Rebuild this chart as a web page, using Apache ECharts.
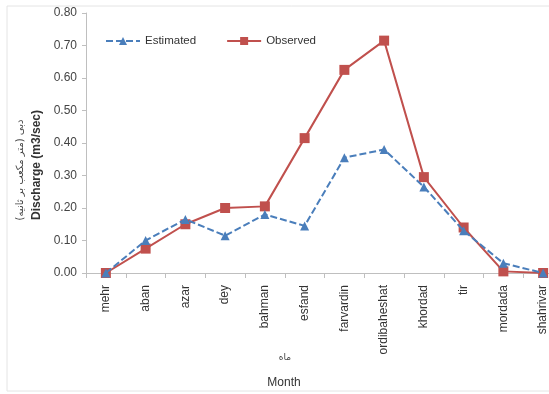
<!DOCTYPE html>
<html><head><meta charset="utf-8">
<script src="https://cdn.jsdelivr.net/npm/echarts@6/dist/echarts.min.js"></script>
<style>html,body{margin:0;padding:0;background:#fff;overflow:hidden}#c{width:575px;height:394px}</style>
</head><body><div id="c"></div>
<script>
const months = ['mehr','aban','azar','dey','bahman','esfand','farvardin','ordibaheshat','khordad','tir','mordada','shahrivar'];
const estimated = [0, 0.10, 0.165, 0.115, 0.18, 0.145, 0.355, 0.38, 0.265, 0.13, 0.03, 0];
const observed = [0, 0.075, 0.15, 0.2, 0.205, 0.415, 0.625, 0.715, 0.295, 0.14, 0.005, 0];
const yTicks = [0, 0.8, 0.1];

const chart = echarts.init(document.getElementById('c'), null, {renderer:'canvas'});
const font = 'Liberation Sans, Arial, sans-serif';
chart.setOption({
  animation: false,
  textStyle: {fontFamily: font},
  grid: {left: 86, top: 13, height: 260, width: 477, containLabel: false},
  legend: {
    left: 100, top: 30, itemWidth: 34, itemHeight: 10, itemGap: 30,
    textStyle: {fontSize: 11.5, color: '#333', fontFamily: font},
    data: ['Estimated', 'Observed']
  },
  xAxis: {
    type: 'category', data: months,
    axisLine: {lineStyle: {color: '#bfbfbf'}},
    axisTick: {show: true, length: 5, lineStyle: {color: '#bfbfbf'}},
    axisLabel: {rotate: 90, fontSize: 12, color: '#333', margin: 12, fontFamily: font}
  },
  yAxis: {
    type: 'value', min: yTicks[0], max: yTicks[1], interval: yTicks[2],
    splitLine: {show: false},
    axisLine: {show: true, lineStyle: {color: '#bfbfbf'}},
    axisTick: {show: true, length: 4, lineStyle: {color: '#bfbfbf'}},
    axisLabel: {fontSize: 12, color: '#444', margin: 9, formatter: v => v.toFixed(2), fontFamily: font}
  },
  series: [
    {name: 'Estimated', type: 'line', data: estimated, symbol: 'triangle', symbolSize: 9,
     lineStyle: {color: '#4a7ebb', width: 2, type: [7, 3]}, itemStyle: {color: '#4a7ebb'}, z: 3},
    {name: 'Observed', type: 'line', data: observed, symbol: 'rect', symbolSize: 10,
     lineStyle: {color: '#c0504d', width: 2}, itemStyle: {color: '#c0504d'}, z: 2}
  ],
  graphic: [
    {type: 'rect', shape: {x: 7, y: 6, width: 580, height: 385}, style: {fill: 'none', stroke: '#e4e4e4', lineWidth: 1}, silent: true, z: -1},
    {type: 'text', x: 37, y: 165, rotation: Math.PI/2, style: {text: 'Discharge (m3/sec)', font: 'bold 12px ' + font, fill: '#333', align: 'center', verticalAlign: 'middle'}},
    {type: 'text', x: 20, y: 170, rotation: Math.PI/2, style: {text: 'دبی (متر مکعب بر ثانیه)', font: '10px "DejaVu Sans", sans-serif', fill: '#444', align: 'center', verticalAlign: 'middle'}},
    {type: 'text', x: 285, y: 358, style: {text: 'ماه', font: '9px "DejaVu Sans", sans-serif', fill: '#444', align: 'center', verticalAlign: 'middle'}},
    {type: 'text', x: 284, y: 383, style: {text: 'Month', font: '12px ' + font, fill: '#333', align: 'center', verticalAlign: 'middle'}}
  ]
});
</script></body></html>
